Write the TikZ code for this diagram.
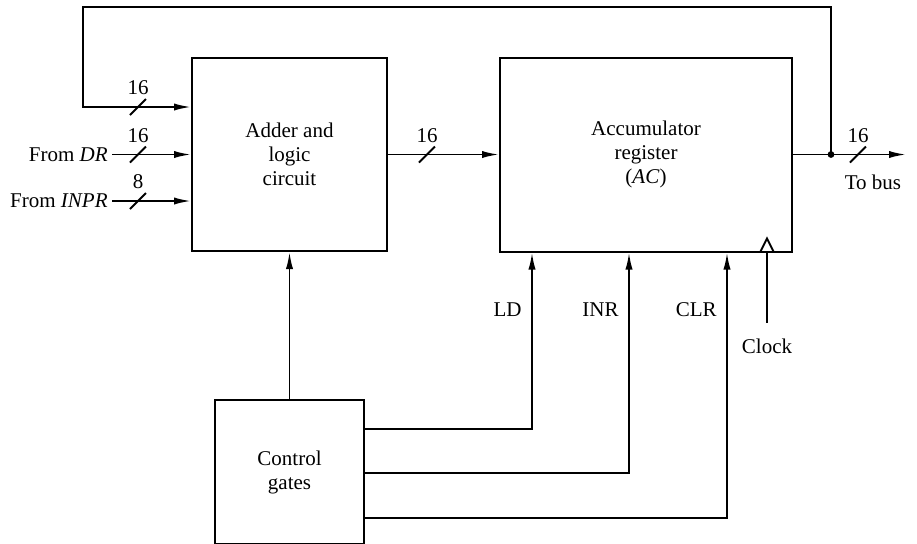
\documentclass[tikz,border=0pt]{standalone}
\usepackage{fontspec}
\setmainfont{Liberation Serif}
\usetikzlibrary{arrows.meta,positioning,calc}
\tikzset{
  block/.style={draw,line width=1pt,inner sep=0pt,align=center,font=\fontsize{10.5}{12}\selectfont},
  lbl/.style={font=\fontsize{10.5}{12}\selectfont,inner sep=2pt},
  wire/.style={line width=.95pt},
  flow/.style={wire,-{Latex[length=8.5pt,width=3.6pt]}},
  buswidth/.pic={\draw[wire] (-4pt,-4pt) -- (4pt,4pt); \node[lbl] at (0,9.5pt) {#1};}
}

\begin{document}
\begin{tikzpicture}[x=0.5pt,y=-0.5pt]
\useasboundingbox (0,0) rectangle (917,543);

\node[block,minimum width=97.5pt,minimum height=96.5pt] (adder) at (289.5,154.5) {Adder and\\logic\\circuit};
\node[block,minimum width=146pt,minimum height=97pt,right=55.5pt of adder] (ac) {Accumulator\\register\\(\textit{AC})};
\node[block,minimum width=74.5pt,minimum height=72pt,below=73.5pt of adder] (ctrl) {Control\\gates};

\node[lbl,anchor=east] (dr) at (112,154.5) {From \textit{DR}};
\node[lbl,anchor=east] (inpr) at (112,201) {From \textit{INPR}};

\coordinate[right=19pt of ac.east] (tap);
\coordinate[right=56.5pt of ac.east] (bus);
\coordinate (loopcorner) at (83,7);
\coordinate (fbin) at ($(adder.west)+(0,-47.5)$);
\coordinate (ldin) at ($(ac.south west)+(33,0)$);
\coordinate (inrin) at ($(ac.south west)+(130,0)$);
\coordinate (clrin) at ($(ac.south west)+(228,0)$);
\coordinate (clkin) at ($(ac.south west)+(268,0)$);
\coordinate (clkfoot) at ($(clkin)+(0,70)$);

% inputs of the adder
\draw[flow] (tap) |- (loopcorner) |- (fbin);
\draw[flow] (dr) -- (adder.west |- dr);
\draw[flow] (inpr) -- (adder.west |- inpr);
\pic at (138,107) {buswidth=16};
\pic at (138,154.5) {buswidth=16};
\pic at (138,201) {buswidth=8};

% data path
\draw[flow] (adder) -- (ac);
\pic at (427,154.5) {buswidth=16};
\draw[flow] (ac.east) -- (bus);
\fill (tap) circle (1.7pt);
\pic at (858,154.5) {buswidth=16};
\node[lbl] (tobus) at (873,182) {To bus};

% control lines
\draw[flow] (ctrl) -- (adder);
\draw[flow] ($(ctrl.east)+(0,-43)$) -| (ldin);
\draw[flow] ($(ctrl.east)+(0,1)$) -| (inrin);
\draw[flow] ($(ctrl.east)+(0,46)$) -| (clrin);
\node[lbl,anchor=east,xshift=-3pt] (ldlbl) at (ldin |- 0,310) {LD};
\node[lbl,anchor=east,xshift=-3pt] (inrlbl) at (inrin |- 0,310) {INR};
\node[lbl,anchor=east,xshift=-3pt] (clrlbl) at (clrin |- 0,310) {CLR};

% clock
\draw[wire] (clkfoot) -- (clkin);
\draw[wire] ($(clkin)+(-7,0)$) -- ($(clkin)+(0,-14)$) -- ($(clkin)+(7,0)$);
\node[lbl,below=6pt of clkfoot] (clock) {Clock};
\end{tikzpicture}
\end{document}
